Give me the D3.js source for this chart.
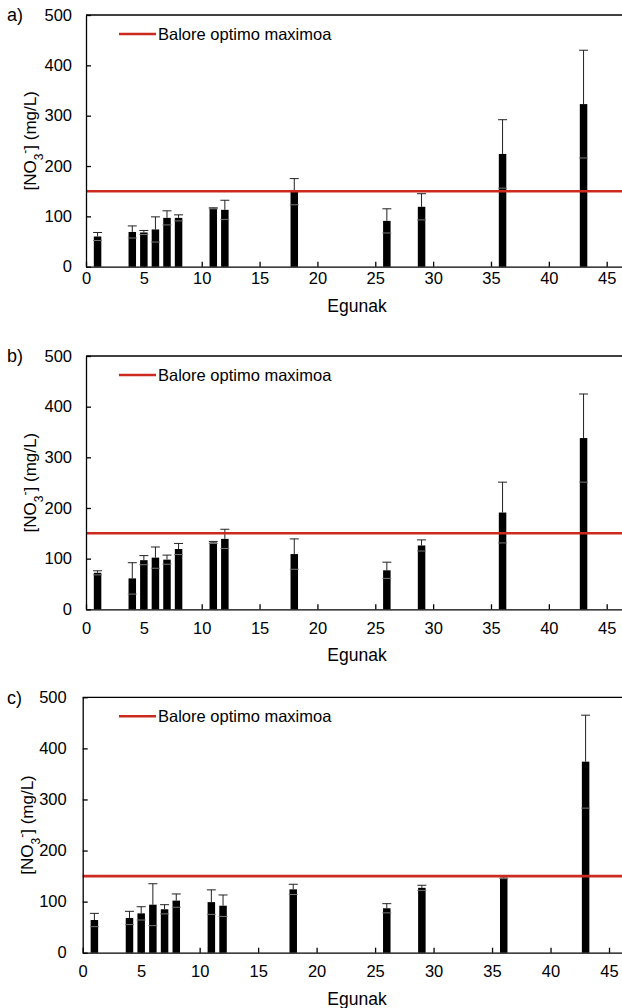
<!DOCTYPE html>
<html>
<head>
<meta charset="utf-8">
<script src="https://cdn.jsdelivr.net/npm/d3@7"></script>
<style>
  body { margin: 0; background: #fff; }
  svg text { font-family: Arial, "Liberation Sans", sans-serif; fill: #000; }
  .axis path, .axis line { stroke: #000; stroke-width: 1.3; }
</style>
</head>
<body>
<div id="graph"></div>
<script>
// sampling days (x) shared by the three panels
var days = [1, 4, 5, 6, 7, 8, 11, 12, 18, 26, 29, 36, 43];

// panel a
var meanA = [60, 69, 68, 74, 97, 97, 116, 113, 149, 91, 119, 224, 323];
var errA  = [8, 12, 4, 25, 14, 6, 1, 19, 26, 24, 26, 68, 107];
// panel b
var meanB = [72, 61, 97, 102, 98, 119, 132, 139, 109, 77, 126, 191, 338];
var errB  = [4, 31, 9, 21, 9, 11, 2, 19, 30, 16, 11, 60, 87];
// panel c
var meanC = [64, 68, 77, 94, 85, 102, 99, 92, 124, 87, 127, 147, 374];
var errC  = [13, 13, 13, 41, 9, 13, 24, 21, 10, 9, 5, 2, 91];

var xTicks = [0, 5, 10, 15, 20, 25, 30, 35, 40, 45];
var yTicks = [0, 100, 200, 300, 400, 500];
var optimoMax = 150;
var legendText = "Balore optimo maximoa";
var xTitle = "Egunak";

var w = 622, h = 1008;

// where each panel sits on the page
var panels = [
    {name: "a)", mean: meanA, err: errA, top: 15,    bottom: 266.7, left: 86,   x45: 606.7, xPad: 6,  titleY: 306, yTitleX: 30},
    {name: "b)", mean: meanB, err: errB, top: 356,   bottom: 609.3, left: 86,   x45: 606.7, xPad: 13, titleY: 655, yTitleX: 30},
    {name: "c)", mean: meanC, err: errC, top: 697.3, bottom: 952.7, left: 82.7, x45: 609,   xPad: 13, titleY: 999, yTitleX: 27}
];

var svg = d3.select("#graph").append("svg")
    .attr("width", w)
    .attr("height", h);

function drawPanel(p){
    var g = svg.append("g");
    var xMax = 45 * (w - p.left) / (p.x45 - p.left);

    var x = d3.scaleLinear()
        .domain([0, xMax])
        .range([p.left, w]);
    var y = d3.scaleLinear()
        .domain([0, 500])
        .range([p.bottom, p.top]);

    var barW = 7.5, capW = 9;
    var data = days.map(function(d, i){
        return {day: d, mean: p.mean[i], err: p.err[i]};
    });

    // top border
    g.append("line")
        .attr("x1", x(0)).attr("x2", x(xMax))
        .attr("y1", y(500)).attr("y2", y(500))
        .attr("stroke", "#000").attr("stroke-width", 1.3);

    // bars
    g.selectAll(".bar")
        .data(data)
        .enter()
        .append("rect")
        .classed("bar", true)
        .attr("x", function(d){ return x(d.day) - barW / 2; })
        .attr("y", function(d){ return y(d.mean); })
        .attr("width", barW)
        .attr("height", function(d){ return y(0) - y(d.mean); })
        .attr("fill", "#000");

    // error bars (upper whisker + caps, lower cap shows over the bar)
    g.selectAll(".stem")
        .data(data)
        .enter()
        .append("line")
        .classed("stem", true)
        .attr("x1", function(d){ return x(d.day); })
        .attr("x2", function(d){ return x(d.day); })
        .attr("y1", function(d){ return y(d.mean); })
        .attr("y2", function(d){ return y(d.mean + d.err); })
        .attr("stroke", "#222").attr("stroke-width", 1);
    g.selectAll(".capHi")
        .data(data)
        .enter()
        .append("line")
        .classed("capHi", true)
        .attr("x1", function(d){ return x(d.day) - capW / 2; })
        .attr("x2", function(d){ return x(d.day) + capW / 2; })
        .attr("y1", function(d){ return y(d.mean + d.err); })
        .attr("y2", function(d){ return y(d.mean + d.err); })
        .attr("stroke", "#222").attr("stroke-width", 1);
    g.selectAll(".capLo")
        .data(data)
        .enter()
        .append("line")
        .classed("capLo", true)
        .attr("x1", function(d){ return x(d.day) - capW / 2; })
        .attr("x2", function(d){ return x(d.day) + capW / 2; })
        .attr("y1", function(d){ return y(d.mean - d.err); })
        .attr("y2", function(d){ return y(d.mean - d.err); })
        .attr("stroke", "#777").attr("stroke-width", 1);

    // optimum max line
    g.append("line")
        .attr("x1", x(0)).attr("x2", x(xMax))
        .attr("y1", y(optimoMax)).attr("y2", y(optimoMax))
        .attr("stroke", "#cc2a1e").attr("stroke-width", 2.6);

    // axes, ticks inside
    var xAxis = d3.axisBottom(x)
        .tickValues(xTicks)
        .tickSizeInner(-5)
        .tickSizeOuter(0)
        .tickPadding(p.xPad);
    var yAxis = d3.axisLeft(y)
        .tickValues(yTicks)
        .tickSizeInner(-5)
        .tickSizeOuter(0)
        .tickPadding(p.name === "c)" ? 16 : 14);

    g.append("g")
        .classed("x axis", true)
        .attr("transform", "translate(0," + p.bottom + ")")
        .call(xAxis)
        .selectAll("text")
        .style("font-size", "16.5px")
        .style("font-family", "Arial, 'Liberation Sans', sans-serif");
    g.append("g")
        .classed("y axis", true)
        .attr("transform", "translate(" + p.left + ",0)")
        .call(yAxis)
        .selectAll("text")
        .style("font-size", "16.5px")
        .style("font-family", "Arial, 'Liberation Sans', sans-serif");

    // legend
    var ly = p.top + 19;
    g.append("line")
        .attr("x1", 119).attr("x2", 156)
        .attr("y1", ly).attr("y2", ly)
        .attr("stroke", "#cc2a1e").attr("stroke-width", 2.6);
    g.append("text")
        .attr("x", 158).attr("y", ly)
        .attr("dy", "0.35em")
        .style("font-size", "16.5px")
        .text(legendText);

    // panel letter
    g.append("text")
        .attr("x", 7).attr("y", p.top)
        .attr("dy", "0.35em")
        .style("font-size", "18px")
        .text(p.name);

    // x title
    g.append("text")
        .attr("x", 357).attr("y", p.titleY)
        .attr("dy", "0.35em")
        .style("text-anchor", "middle")
        .style("font-size", "17.5px")
        .text(xTitle);

    // y title [NO3-] (mg/L)
    var yt = g.append("text")
        .attr("transform", "translate(" + p.yTitleX + "," + (p.top + p.bottom) / 2 + ") rotate(-90)")
        .attr("dy", "0.35em")
        .style("text-anchor", "middle")
        .style("font-size", "17px");
    yt.append("tspan").text("[NO");
    yt.append("tspan").attr("baseline-shift", "sub").style("font-size", "12px").text("3");
    yt.append("tspan").attr("baseline-shift", "super").style("font-size", "12px").text("-");
    yt.append("tspan").text("] (mg/L)");
}

panels.forEach(drawPanel);
</script>
</body>
</html>
